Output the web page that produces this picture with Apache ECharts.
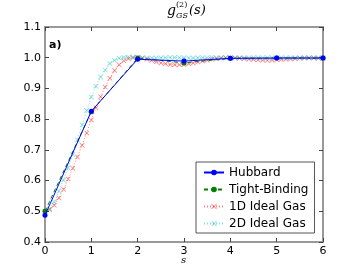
<!DOCTYPE html>
<html><head><meta charset="utf-8">
<script src="https://cdn.jsdelivr.net/npm/echarts@6/dist/echarts.min.js"></script>
<style>html,body{margin:0;padding:0;background:#fff}#c{width:360px;height:269px}</style>
</head><body><div id="c"></div>
<script>
var sPts = [0, 1, 2, 3, 4, 5, 6];
var hubbard = [0.487, 0.826, 0.995, 0.989, 0.998, 0.999, 0.999];
var tightBinding = [0.500, 0.824, 0.999, 0.983, 0.998, 0.999, 0.999];
var sFine = [0.0,0.1,0.2,0.3,0.4,0.5,0.6,0.7,0.8,0.9,1.0,1.1,1.2,1.3,1.4,1.5,1.6,1.7,1.8,1.9,2.0,2.1,2.2,2.3,2.4,2.5,2.6,2.7,2.8,2.9,3.0,3.1,3.2,3.3,3.4,3.5,3.6,3.7,3.8,3.9,4.0,4.1,4.2,4.3,4.4,4.5,4.6,4.7,4.8,4.9,5.0,5.1,5.2,5.3,5.4,5.5,5.6,5.7,5.8,5.9,6.0];
var idealGas1D = [0.500,0.505,0.520,0.543,0.572,0.605,0.640,0.677,0.715,0.755,0.797,0.837,0.873,0.905,0.933,0.958,0.977,0.990,0.997,1.000,1.001,0.999,0.995,0.991,0.987,0.983,0.980,0.978,0.977,0.977,0.978,0.980,0.983,0.986,0.989,0.992,0.995,0.997,0.999,1.000,1.000,0.999,0.998,0.997,0.995,0.994,0.993,0.992,0.992,0.992,0.993,0.994,0.995,0.996,0.997,0.998,0.999,0.999,0.999,0.998,0.998];
var idealGas2D = [0.500,0.508,0.530,0.565,0.602,0.642,0.685,0.732,0.782,0.828,0.872,0.907,0.937,0.960,0.981,0.992,0.998,1.001,1.002,1.002,1.001,1.000,0.999,0.999,0.999,1.000,1.000,1.001,1.001,1.000,1.000,0.999,0.999,1.000,1.000,1.000,1.001,1.000,1.000,1.000,0.999,1.000,1.000,1.000,1.000,1.000,1.000,1.000,1.000,1.000,1.000,1.000,1.000,1.000,1.000,1.000,1.000,1.000,1.000,1.000,1.000];
var xTicks = [0, 1, 2, 3, 4, 5, 6];
var yTicks = [0.4, 0.5, 0.6, 0.7, 0.8, 0.9, 1.0, 1.1];
var names = ['Hubbard', 'Tight-Binding', '1D Ideal Gas', '2D Ideal Gas'];

function pairs(xs, ys) { return xs.map(function (x, i) { return [x, ys[i]]; }); }
var cross = 'path://M0,1L1,0L5,4L9,0L10,1L6,5L10,9L9,10L5,6L1,10L0,9L4,5Z';
var axisCol = '#999';
var fnt = 'DejaVu Sans';
function axisBase(show) {
  return {
    axisLine: { show: true, onZero: false, lineStyle: { color: axisCol, width: 2 } },
    axisTick: { show: true, inside: true, length: 4, lineStyle: { color: '#444', width: 1 } },
    splitLine: { show: false },
    axisLabel: { show: show, color: '#000', fontFamily: fnt, fontSize: 11, margin: 4 }
  };
}
var xa = axisBase(true), xa2 = axisBase(false), ya = axisBase(true), ya2 = axisBase(false);
[xa, xa2].forEach(function (a) { a.type = 'value'; a.min = xTicks[0]; a.max = xTicks[xTicks.length - 1]; a.interval = 1; });
[ya, ya2].forEach(function (a) { a.type = 'value'; a.min = yTicks[0]; a.max = yTicks[yTicks.length - 1]; a.interval = 0.1; });
xa.position = 'bottom'; xa2.position = 'top';
ya.position = 'left'; ya2.position = 'right';
ya.axisLabel.formatter = function (v) { return v.toFixed(1); };

var chart = echarts.init(document.getElementById('c'));
chart.setOption({
  animation: false,
  grid: { left: 45, right: 37, top: 27, bottom: 27 },
  xAxis: [xa, xa2],
  yAxis: [ya, ya2],
  legend: {
    orient: 'vertical', left: 196, top: 162,
    data: names, itemWidth: 20, itemHeight: 7, itemGap: 4,
    padding: [4, 6, 3, 7],
    borderColor: '#555', borderWidth: 1, backgroundColor: '#fff',
    textStyle: { fontFamily: fnt, fontSize: 12, color: '#000', lineHeight: 13 }
  },
  graphic: [
    { type: 'text', left: 167, top: 4, style: { text: 'g', font: 'italic 14px "DejaVu Serif"', fill: '#000' } },
    { type: 'text', left: 176, top: 1, style: { text: '(2)', font: '8px "DejaVu Serif"', fill: '#000' } },
    { type: 'text', left: 176, top: 12, style: { text: 'GS', font: 'italic 8px "DejaVu Serif"', fill: '#000' } },
    { type: 'text', left: 189, top: 4, style: { text: '(s)', font: 'italic 13px "DejaVu Serif"', fill: '#000' } },
    { type: 'text', left: 49, top: 40, style: { text: 'a)', font: 'bold 11px "DejaVu Sans"', fill: '#000' } },
    { type: 'text', left: 181, top: 255, style: { text: 's', font: 'italic 10px "DejaVu Serif"', fill: '#000' } }
  ],
  series: [
    { name: names[2], type: 'line', data: pairs(sFine, idealGas1D), symbol: cross, symbolSize: 5,
      lineStyle: { color: 'rgba(255,0,0,0.5)', width: 1, type: [1, 2] },
      itemStyle: { color: 'rgba(255,0,0,0.55)' }, z: 2 },
    { name: names[3], type: 'line', data: pairs(sFine, idealGas2D), symbol: cross, symbolSize: 5,
      lineStyle: { color: 'rgba(0,191,191,0.5)', width: 1, type: [1, 2] },
      itemStyle: { color: 'rgba(0,191,191,0.55)' }, z: 3 },
    { name: names[1], type: 'line', data: pairs(sPts, tightBinding), symbol: 'circle', symbolSize: 5,
      lineStyle: { color: '#008000', width: 1, type: [4, 3] },
      itemStyle: { color: '#008000' }, z: 4 },
    { name: names[0], type: 'line', data: pairs(sPts, hubbard), symbol: 'circle', symbolSize: 5,
      lineStyle: { color: '#0000ff', width: 1 },
      itemStyle: { color: '#0000ff' }, z: 5 }
  ]
});
</script></body></html>
